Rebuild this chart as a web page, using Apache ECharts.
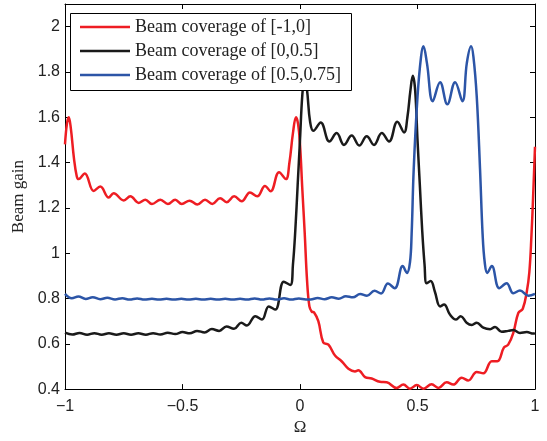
<!DOCTYPE html>
<html>
<head>
<meta charset="utf-8">
<script src="https://cdn.jsdelivr.net/npm/echarts@6/dist/echarts.min.js"></script>
<style>
html,body{margin:0;padding:0;background:#fff;}
#chart{width:547px;height:441px;}
</style>
</head>
<body>
<div id="chart"></div>
<script>
// ---- data ----
const seriesNames = ['Beam coverage of [-1,0]', 'Beam coverage of [0,0.5]', 'Beam coverage of [0.5,0.75]'];
const xTicks = [-1, -0.5, 0, 0.5, 1];
const yTicks = [0.4, 0.6, 0.8, 1, 1.2, 1.4, 1.6, 1.8, 2];

const redX = [-1.000,-0.992,-0.984,-0.975,-0.962,-0.950,-0.942,-0.916,-0.878,-0.850,-0.814,-0.793,-0.750,-0.722,-0.686,-0.658,-0.630,-0.594,-0.562,-0.531,-0.503,-0.470,-0.437,-0.404,-0.373,-0.340,-0.312,-0.280,-0.248,-0.213,-0.182,-0.149,-0.125,-0.089,-0.060,-0.045,-0.030,-0.017,-0.008,0.000,0.010,0.020,0.030,0.040,0.050,0.060,0.078,0.099,0.121,0.149,0.177,0.206,0.234,0.248,0.277,0.305,0.340,0.369,0.411,0.440,0.468,0.497,0.525,0.560,0.589,0.624,0.652,0.688,0.716,0.752,0.780,0.816,0.840,0.868,0.886,0.908,0.929,0.948,0.965,0.976,0.985,0.992,1.000];
const redY = [1.48,1.57,1.60,1.55,1.42,1.34,1.327,1.352,1.275,1.294,1.246,1.265,1.233,1.251,1.222,1.236,1.217,1.236,1.217,1.236,1.217,1.232,1.215,1.236,1.217,1.243,1.225,1.251,1.229,1.268,1.251,1.297,1.273,1.357,1.327,1.40,1.53,1.60,1.57,1.48,1.28,1.09,0.88,0.765,0.742,0.738,0.700,0.606,0.596,0.548,0.523,0.490,0.478,0.483,0.453,0.447,0.432,0.430,0.405,0.420,0.402,0.418,0.402,0.421,0.405,0.430,0.420,0.450,0.438,0.476,0.470,0.523,0.523,0.584,0.596,0.649,0.736,0.755,0.830,0.917,1.08,1.25,1.47];

const blackX = [-1.000,-0.969,-0.938,-0.906,-0.875,-0.844,-0.813,-0.781,-0.750,-0.719,-0.688,-0.656,-0.625,-0.594,-0.563,-0.531,-0.500,-0.469,-0.438,-0.406,-0.375,-0.344,-0.313,-0.281,-0.250,-0.226,-0.190,-0.162,-0.133,-0.105,-0.069,-0.041,-0.030,-0.020,-0.010,0.000,0.010,0.020,0.030,0.043,0.057,0.088,0.125,0.156,0.187,0.220,0.252,0.284,0.315,0.348,0.379,0.414,0.443,0.457,0.470,0.480,0.490,0.500,0.510,0.520,0.530,0.539,0.556,0.574,0.596,0.613,0.638,0.664,0.684,0.709,0.731,0.752,0.780,0.809,0.830,0.858,0.886,0.908,0.936,0.965,0.993,1.000];
const blackY = [0.649,0.641,0.648,0.640,0.647,0.640,0.646,0.640,0.646,0.640,0.646,0.640,0.647,0.641,0.649,0.643,0.652,0.646,0.657,0.650,0.665,0.657,0.676,0.666,0.693,0.681,0.722,0.707,0.765,0.751,0.874,0.860,0.95,1.10,1.30,1.50,1.70,1.78,1.72,1.58,1.540,1.577,1.493,1.530,1.478,1.519,1.475,1.516,1.478,1.530,1.493,1.580,1.533,1.60,1.72,1.783,1.72,1.50,1.30,1.10,0.95,0.867,0.877,0.830,0.765,0.773,0.729,0.707,0.722,0.693,0.683,0.693,0.671,0.664,0.674,0.653,0.657,0.661,0.648,0.652,0.645,0.648];

const blueX = [-1.000,-0.971,-0.943,-0.912,-0.882,-0.850,-0.820,-0.787,-0.756,-0.725,-0.693,-0.662,-0.630,-0.600,-0.568,-0.537,-0.505,-0.475,-0.443,-0.412,-0.380,-0.350,-0.318,-0.287,-0.255,-0.225,-0.193,-0.162,-0.130,-0.100,-0.068,-0.037,-0.005,0.025,0.045,0.075,0.105,0.135,0.165,0.195,0.225,0.256,0.285,0.317,0.345,0.374,0.403,0.437,0.455,0.468,0.475,0.484,0.500,0.515,0.525,0.540,0.565,0.596,0.627,0.660,0.691,0.710,0.728,0.738,0.752,0.766,0.777,0.786,0.797,0.816,0.848,0.879,0.908,0.936,0.972,1.000];
const blueY = [0.820,0.801,0.809,0.798,0.806,0.797,0.803,0.796,0.801,0.795,0.800,0.795,0.799,0.795,0.799,0.795,0.799,0.795,0.799,0.795,0.799,0.795,0.799,0.795,0.799,0.795,0.800,0.795,0.800,0.795,0.801,0.795,0.800,0.796,0.796,0.802,0.797,0.805,0.799,0.810,0.805,0.820,0.812,0.834,0.822,0.866,0.845,0.943,0.913,0.960,1.084,1.374,1.69,1.867,1.913,1.84,1.671,1.755,1.657,1.755,1.671,1.84,1.913,1.867,1.693,1.374,1.084,0.960,0.913,0.943,0.845,0.867,0.823,0.835,0.812,0.820];

const colors = ['#ee1d23', '#1a1a1a', '#2c55a7'];

function pairs(xs, ys){ return xs.map((x,i)=>[x, ys[i]]); }

const chart = echarts.init(document.getElementById('chart'), null, {renderer:'canvas'});
const fmtX = v => (Math.abs(v) < 1e-9 ? '0' : String(+v.toFixed(2)).replace('-', '\u2212'));
const fmtY = v => (yTicks.some(t => Math.abs(t - v) < 1e-6) ? String(+v.toFixed(2)) : '');
const labelStyle = {fontFamily:'Liberation Sans, Arial, sans-serif', fontSize:16, color:'#222'};
const serif = 'Liberation Serif, Times New Roman, serif';

const option = {
  animation:false,
  backgroundColor:'#fff',
  grid:{left:65, right:12, top:4, bottom:47, containLabel:false},
  xAxis:[
    {type:'value', min:-1, max:1, interval:0.5, position:'bottom',
     name:'\u03A9', nameLocation:'middle', nameGap:29,
     nameTextStyle:{fontFamily:serif, fontSize:17, color:'#222'},
     axisLine:{show:true, onZero:false, lineStyle:{color:'#000', width:1}},
     axisTick:{show:true, inside:true, length:5, lineStyle:{color:'#000'}},
     axisLabel:Object.assign({margin:9, formatter:fmtX}, labelStyle),
     splitLine:{show:false}},
    {type:'value', min:-1, max:1, interval:0.5, position:'top',
     axisLine:{show:true, onZero:false, lineStyle:{color:'#000', width:1}},
     axisTick:{show:true, inside:true, length:5, lineStyle:{color:'#000'}},
     axisLabel:{show:false}, splitLine:{show:false}}
  ],
  yAxis:[
    {type:'value', min:0.4, max:2.1, interval:0.2, position:'left',
     name:'Beam gain', nameLocation:'middle', nameGap:38,
     nameTextStyle:{fontFamily:serif, fontSize:17, color:'#222'},
     axisLine:{show:true, onZero:false, lineStyle:{color:'#000', width:1}},
     axisTick:{show:true, inside:true, length:5, lineStyle:{color:'#000'}},
     axisLabel:Object.assign({margin:5, formatter:fmtY, showMaxLabel:false}, labelStyle),
     splitLine:{show:false}},
    {type:'value', min:0.4, max:2.1, interval:0.2, position:'right',
     axisLine:{show:true, onZero:false, lineStyle:{color:'#000', width:1}},
     axisTick:{show:true, inside:true, length:5, lineStyle:{color:'#000'}},
     axisLabel:{show:false}, splitLine:{show:false}}
  ],
  legend:{
    orient:'vertical', left:80, top:15, padding:0, itemGap:0,
    icon:'rect', itemWidth:50, itemHeight:2.5, z:10,
    textStyle:{fontFamily:serif, fontSize:18, color:'#222', lineHeight:24},
    data:seriesNames
  },
  graphic:[{
    type:'rect', z:5,
    shape:{x:70.5, y:13.5, width:281, height:77},
    style:{fill:'#fff', stroke:'#000', lineWidth:1}
  }],
  series:[
    {name:seriesNames[0], data:pairs(redX, redY)},
    {name:seriesNames[1], data:pairs(blackX, blackY)},
    {name:seriesNames[2], data:pairs(blueX, blueY)}
  ].map((s,i)=>Object.assign({
    type:'line', xAxisIndex:0, yAxisIndex:0, showSymbol:false, symbol:'none',
    smooth:0.4, color:colors[i], lineStyle:{color:colors[i], width:2.5},
    clip:true, z:2
  }, s))
};
chart.setOption(option);
</script>
</body>
</html>
